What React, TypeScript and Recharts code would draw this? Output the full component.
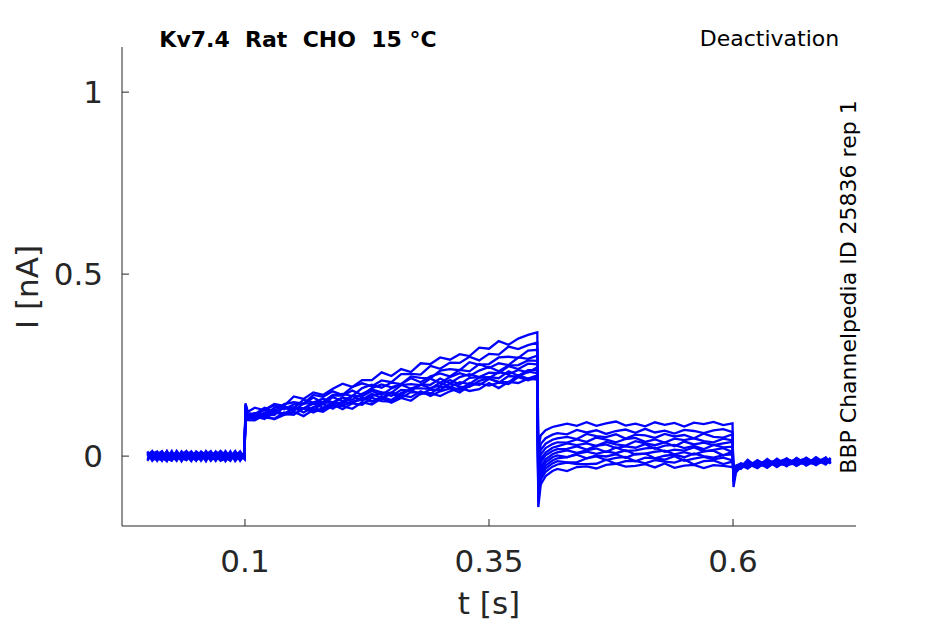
import React from "react";
import { LineChart, Line, XAxis, YAxis } from "recharts";

const timeS = [
  0.0, 0.005, 0.01, 0.015, 0.02, 0.025, 0.03, 0.035, 0.04, 0.045, 0.05, 0.055, 0.06, 0.065, 0.07, 0.075, 0.08, 0.085, 0.09, 0.095, 0.0995,
  0.1005, 0.103, 0.11, 0.12, 0.13, 0.14, 0.15, 0.16, 0.17, 0.18, 0.19, 0.2, 0.21, 0.22, 0.23, 0.24, 0.25, 0.26, 0.27, 0.28, 0.29, 0.3, 0.31, 0.32, 0.33, 0.34, 0.35, 0.36, 0.37, 0.38, 0.39, 0.3995,
  0.4005, 0.403, 0.408, 0.415, 0.42, 0.43, 0.44, 0.45, 0.46, 0.47, 0.48, 0.49, 0.5, 0.51, 0.52, 0.53, 0.54, 0.55, 0.56, 0.57, 0.58, 0.59, 0.5995,
  0.6005, 0.603, 0.608, 0.615, 0.625, 0.635, 0.645, 0.655, 0.665, 0.675, 0.685, 0.695, 0.7,
];

const trace01 = [
  0.007, -0.011, 0.004, 0.014, -0.006, -0.013, 0.008, 0.001, -0.01, 0.013, -0.003, 0.006, -0.014, 0.01, -0.007, 0.003, 0.011, -0.008, 0.004, -0.004, 0.001,
  0.145, 0.122, 0.133, 0.126, 0.143, 0.138, 0.164, 0.157, 0.175, 0.168, 0.185, 0.199, 0.19, 0.209, 0.209, 0.23, 0.22, 0.239, 0.231, 0.255, 0.253, 0.271, 0.265, 0.28, 0.275, 0.298, 0.295, 0.316, 0.306, 0.323, 0.333, 0.34,
  0.02, 0.057, 0.071, 0.08, 0.083, 0.089, 0.083, 0.093, 0.083, 0.09, 0.095, 0.084, 0.089, 0.082, 0.093, 0.086, 0.091, 0.081, 0.092, 0.088, 0.094, 0.085, 0.09,
  -0.085, -0.045, -0.03, -0.01, -0.031, -0.008, -0.027, -0.006, -0.024, -0.004, -0.022, -0.005, -0.018,
];
const trace02 = [
  -0.01, 0.006, 0.013, -0.004, -0.014, 0.007, 0.003, -0.008, 0.011, -0.001, 0.008, -0.013, 0.004, 0.014, -0.006, -0.01, 0.007, 0.001, -0.011, 0.008, -0.003,
  0.138, 0.118, 0.115, 0.133, 0.123, 0.143, 0.148, 0.144, 0.168, 0.163, 0.178, 0.168, 0.19, 0.2, 0.192, 0.208, 0.203, 0.225, 0.226, 0.224, 0.248, 0.24, 0.257, 0.256, 0.273, 0.263, 0.281, 0.279, 0.301, 0.294, 0.305, 0.312,
  -0.01, 0.033, 0.049, 0.059, 0.063, 0.06, 0.072, 0.065, 0.071, 0.061, 0.069, 0.073, 0.064, 0.075, 0.065, 0.07, 0.062, 0.072, 0.069, 0.063, 0.071, 0.074, 0.066,
  -0.072, -0.04, -0.028, -0.032, -0.011, -0.029, -0.007, -0.025, -0.009, -0.023, -0.003, -0.02, -0.009,
];
const trace03 = [
  0.003, 0.014, -0.007, -0.011, 0.008, 0.001, -0.013, 0.01, 0.004, -0.008, -0.004, 0.013, -0.001, -0.01, 0.011, 0.006, -0.014, 0.003, 0.008, -0.006, 0.004,
  0.13, 0.112, 0.117, 0.111, 0.133, 0.134, 0.132, 0.155, 0.147, 0.149, 0.168, 0.171, 0.165, 0.187, 0.196, 0.188, 0.202, 0.198, 0.219, 0.215, 0.214, 0.235, 0.239, 0.236, 0.258, 0.251, 0.253, 0.271, 0.273, 0.27, 0.29, 0.292,
  -0.03, 0.017, 0.034, 0.045, 0.049, 0.053, 0.047, 0.061, 0.055, 0.052, 0.06, 0.048, 0.059, 0.057, 0.05, 0.061, 0.054, 0.058, 0.049, 0.062, 0.053, 0.051, 0.06,
  -0.066, -0.036, -0.033, -0.015, -0.027, -0.012, -0.03, -0.008, -0.022, -0.006, -0.024, -0.004, -0.021,
];
const trace04 = [
  -0.006, -0.001, 0.01, 0.004, -0.013, 0.011, -0.007, 0.003, 0.014, -0.004, -0.011, 0.001, 0.008, -0.008, 0.004, 0.013, -0.003, -0.013, 0.006, 0.01, -0.007,
  0.142, 0.116, 0.111, 0.128, 0.139, 0.129, 0.142, 0.143, 0.161, 0.147, 0.167, 0.166, 0.18, 0.168, 0.187, 0.197, 0.189, 0.198, 0.214, 0.203, 0.219, 0.227, 0.219, 0.237, 0.233, 0.253, 0.242, 0.255, 0.25, 0.271, 0.267, 0.276,
  -0.045, 0.004, 0.022, 0.033, 0.038, 0.037, 0.046, 0.039, 0.051, 0.045, 0.038, 0.047, 0.05, 0.039, 0.046, 0.037, 0.048, 0.044, 0.049, 0.041, 0.038, 0.048, 0.043,
  -0.062, -0.034, -0.022, -0.034, -0.014, -0.025, -0.009, -0.028, -0.005, -0.021, -0.01, -0.023, -0.007,
];
const trace05 = [
  0.013, -0.008, -0.003, 0.007, 0.003, -0.01, 0.014, -0.006, -0.011, 0.004, 0.01, -0.007, 0.001, 0.006, -0.013, 0.008, -0.004, 0.011, -0.008, 0.001, 0.003,
  0.125, 0.11, 0.118, 0.114, 0.113, 0.135, 0.133, 0.131, 0.147, 0.158, 0.147, 0.161, 0.155, 0.171, 0.183, 0.175, 0.174, 0.195, 0.198, 0.195, 0.213, 0.201, 0.217, 0.228, 0.22, 0.235, 0.245, 0.233, 0.249, 0.25, 0.263, 0.262,
  -0.06, -0.008, 0.01, 0.023, 0.027, 0.035, 0.03, 0.035, 0.028, 0.039, 0.032, 0.029, 0.041, 0.035, 0.03, 0.038, 0.027, 0.04, 0.032, 0.037, 0.03, 0.035, 0.039,
  -0.058, -0.033, -0.031, -0.013, -0.03, -0.016, -0.024, -0.011, -0.027, -0.008, -0.02, -0.006, -0.019,
];
const trace06 = [
  -0.001, 0.008, -0.013, 0.011, -0.004, 0.006, -0.008, 0.013, 0.001, -0.014, 0.007, 0.004, -0.01, 0.003, 0.01, -0.011, 0.006, -0.003, 0.014, -0.007, -0.001,
  0.135, 0.113, 0.113, 0.128, 0.118, 0.133, 0.124, 0.145, 0.145, 0.143, 0.162, 0.15, 0.166, 0.164, 0.179, 0.168, 0.186, 0.196, 0.185, 0.197, 0.196, 0.213, 0.2, 0.217, 0.225, 0.217, 0.229, 0.228, 0.247, 0.239, 0.254, 0.252,
  -0.07, -0.017, 0.002, 0.014, 0.019, 0.02, 0.027, 0.018, 0.028, 0.032, 0.022, 0.027, 0.023, 0.033, 0.02, 0.029, 0.031, 0.022, 0.028, 0.019, 0.031, 0.024, 0.026,
  -0.055, -0.031, -0.024, -0.029, -0.017, -0.032, -0.012, -0.022, -0.007, -0.026, -0.011, -0.018, -0.005,
];
const trace07 = [
  0.008, -0.004, 0.001, -0.01, 0.013, -0.007, 0.004, -0.013, 0.007, 0.011, -0.006, -0.01, 0.014, -0.003, -0.008, 0.003, 0.01, -0.006, -0.001, 0.013, -0.004,
  0.12, 0.106, 0.117, 0.109, 0.12, 0.114, 0.134, 0.13, 0.127, 0.146, 0.148, 0.144, 0.165, 0.152, 0.165, 0.175, 0.165, 0.182, 0.18, 0.196, 0.187, 0.194, 0.209, 0.197, 0.215, 0.217, 0.214, 0.231, 0.225, 0.237, 0.23, 0.244,
  -0.085, -0.029, -0.009, 0.005, 0.01, 0.016, 0.009, 0.016, 0.021, 0.011, 0.024, 0.014, 0.016, 0.021, 0.023, 0.012, 0.018, 0.015, 0.024, 0.013, 0.017, 0.022, 0.011,
  -0.052, -0.03, -0.035, -0.018, -0.026, -0.01, -0.029, -0.014, -0.019, -0.009, -0.025, -0.008, -0.016,
];
const trace08 = [
  -0.013, 0.011, 0.006, -0.001, -0.007, 0.014, -0.011, 0.004, -0.004, 0.008, 0.001, -0.008, 0.007, -0.013, 0.003, 0.01, -0.006, 0.008, -0.01, 0.004, 0.006,
  0.128, 0.11, 0.105, 0.12, 0.129, 0.114, 0.131, 0.131, 0.144, 0.133, 0.147, 0.16, 0.149, 0.155, 0.171, 0.16, 0.175, 0.167, 0.186, 0.186, 0.185, 0.202, 0.19, 0.203, 0.198, 0.216, 0.217, 0.214, 0.233, 0.221, 0.236, 0.236,
  -0.095, -0.038, -0.017, -0.003, 0.002, -0.003, 0.007, 0.012, 0.006, 0.013, 0.008, 0.016, 0.004, 0.007, 0.012, 0.015, 0.005, 0.011, 0.004, 0.013, 0.015, 0.002, 0.012,
  -0.05, -0.029, -0.02, -0.027, -0.012, -0.024, -0.018, -0.007, -0.026, -0.013, -0.017, -0.004, -0.02,
];
const trace09 = [
  0.004, -0.007, -0.01, 0.008, 0.006, -0.003, 0.011, -0.014, 0.01, -0.006, 0.013, 0.003, -0.011, 0.007, -0.001, -0.008, 0.014, -0.004, 0.003, -0.011, 0.0,
  0.118, 0.103, 0.109, 0.102, 0.123, 0.115, 0.114, 0.132, 0.132, 0.126, 0.146, 0.139, 0.148, 0.161, 0.15, 0.163, 0.154, 0.174, 0.181, 0.17, 0.183, 0.181, 0.2, 0.191, 0.19, 0.207, 0.214, 0.202, 0.22, 0.218, 0.232, 0.228,
  -0.105, -0.047, -0.026, -0.012, -0.006, -0.003, 0.004, -0.006, 0.002, -0.001, 0.005, -0.005, 0.006, 0.007, -0.006, 0.001, 0.004, -0.003, 0.007, 0.0, -0.004, 0.003, 0.005,
  -0.048, -0.028, -0.027, -0.021, -0.033, -0.013, -0.02, -0.026, -0.011, -0.018, -0.022, -0.01, -0.012,
];
const trace10 = [
  -0.008, 0.001, 0.007, -0.013, 0.01, 0.004, -0.006, 0.008, -0.003, 0.001, -0.013, 0.011, 0.006, -0.007, 0.013, -0.004, -0.01, 0.007, -0.003, 0.006, -0.006,
  0.126, 0.107, 0.1, 0.115, 0.123, 0.116, 0.133, 0.12, 0.135, 0.143, 0.13, 0.148, 0.146, 0.16, 0.15, 0.156, 0.173, 0.16, 0.176, 0.174, 0.171, 0.19, 0.19, 0.182, 0.201, 0.195, 0.212, 0.204, 0.203, 0.222, 0.213, 0.222,
  -0.115, -0.056, -0.034, -0.02, -0.014, -0.017, -0.017, -0.006, -0.001, -0.011, -0.005, -0.002, -0.014, -0.004, -0.006, -0.01, 0.0, -0.013, -0.007, -0.002, -0.009, -0.004, -0.012,
  -0.046, -0.027, -0.025, -0.031, -0.02, -0.015, -0.027, -0.01, -0.016, -0.023, -0.007, -0.021, -0.014,
];
const trace11 = [
  0.011, -0.013, 0.003, 0.006, -0.008, -0.004, 0.013, -0.001, 0.006, -0.011, 0.004, 0.008, -0.006, -0.001, -0.011, 0.014, 0.001, -0.008, 0.01, -0.013, 0.007,
  0.115, 0.101, 0.11, 0.106, 0.103, 0.12, 0.114, 0.131, 0.12, 0.132, 0.142, 0.129, 0.145, 0.141, 0.16, 0.151, 0.15, 0.167, 0.162, 0.178, 0.165, 0.178, 0.186, 0.175, 0.193, 0.2, 0.194, 0.202, 0.198, 0.217, 0.208, 0.216,
  -0.125, -0.065, -0.043, -0.029, -0.023, -0.018, -0.022, -0.022, -0.021, -0.01, -0.021, -0.014, -0.013, -0.02, -0.011, -0.015, -0.018, -0.009, -0.023, -0.014, -0.012, -0.022, -0.015,
  -0.044, -0.029, -0.032, -0.016, -0.023, -0.028, -0.014, -0.021, -0.015, -0.006, -0.019, -0.015, -0.008,
];
const trace12 = [
  0.0, 0.004, -0.006, -0.007, 0.014, -0.011, 0.001, 0.007, -0.008, 0.01, -0.01, -0.003, 0.011, 0.004, 0.007, -0.013, -0.007, 0.013, -0.014, 0.003, -0.008,
  0.112, 0.099, 0.098, 0.113, 0.101, 0.113, 0.122, 0.11, 0.127, 0.122, 0.139, 0.137, 0.13, 0.148, 0.142, 0.159, 0.147, 0.16, 0.152, 0.172, 0.173, 0.165, 0.178, 0.188, 0.179, 0.184, 0.201, 0.187, 0.204, 0.201, 0.213, 0.21,
  -0.14, -0.078, -0.055, -0.041, -0.035, -0.041, -0.03, -0.028, -0.034, -0.024, -0.021, -0.029, -0.027, -0.022, -0.031, -0.02, -0.032, -0.026, -0.024, -0.033, -0.025, -0.027, -0.03,
  -0.042, -0.026, -0.021, -0.025, -0.028, -0.019, -0.011, -0.024, -0.02, -0.014, -0.016, -0.012, -0.017,
];

const traces = [trace01, trace02, trace03, trace04, trace05, trace06, trace07, trace08, trace09, trace10, trace11, trace12];

const xTicks = [0.1, 0.35, 0.6];
const yTicks = [0, 0.5, 1];
const xLabels = ["0.1", "0.35", "0.6"];
const yLabels = ["0", "0.5", "1"];

const titleText = "Kv7.4  Rat  CHO  15 °C";
const protocolText = "Deactivation";
const sourceText = "BBP Channelpedia ID 25836 rep 1";

const rows = timeS.map((t, i) => {
  const r: Record<string, number> = { t };
  traces.forEach((tr, k) => {
    r["s" + k] = tr[i];
  });
  return r;
});

const AX = "#262626";
const FONT = "DejaVu Sans, sans-serif";

const XTick = (props: any) => {
  const { x, y, payload } = props;
  const idx = xTicks.indexOf(payload.value);
  return (
    <g>
      <line x1={x} x2={x} y1={y} y2={y - 7} stroke={AX} strokeWidth={1} />
      <text x={x} y={y + 46} textAnchor="middle" fill={AX} fontSize={31} fontFamily={FONT}>
        {idx >= 0 ? xLabels[idx] : String(payload.value)}
      </text>
    </g>
  );
};

const YTick = (props: any) => {
  const { x, y, payload } = props;
  const idx = yTicks.indexOf(payload.value);
  return (
    <g>
      <line x1={x} x2={x + 7} y1={y} y2={y} stroke={AX} strokeWidth={1} />
      <text x={x - 19} y={y + 11} textAnchor="end" fill={AX} fontSize={31} fontFamily={FONT}>
        {idx >= 0 ? yLabels[idx] : String(payload.value)}
      </text>
    </g>
  );
};

export default function App() {
  return (
    <div style={{ position: "absolute", left: 0, top: 0, width: 945, height: 624, background: "#fff" }}>
      <LineChart
        width={945}
        height={624}
        data={rows}
        margin={{ top: 47, right: 89, left: 0, bottom: 0 }}
      >
        <XAxis
          type="number"
          dataKey="t"
          domain={[-0.026, 0.726]}
          ticks={xTicks}
          allowDataOverflow
          height={98}
          tickSize={0}
          tickMargin={0}
          tickLine={false}
          axisLine={{ stroke: AX, strokeWidth: 1 }}
          tick={<XTick />}
          interval={0}
        />
        <YAxis
          type="number"
          domain={[-0.192, 1.124]}
          ticks={yTicks}
          allowDataOverflow
          width={122}
          tickSize={0}
          tickMargin={0}
          tickLine={false}
          axisLine={{ stroke: AX, strokeWidth: 1 }}
          tick={<YTick />}
          interval={0}
        />
        {traces.map((_, k) => (
          <Line
            key={k}
            type="linear"
            dataKey={"s" + k}
            stroke="#0000ff"
            strokeWidth={2.3}
            dot={false}
            activeDot={false}
            isAnimationActive={false}
          />
        ))}
      </LineChart>
      <svg
        width={945}
        height={624}
        style={{ position: "absolute", left: 0, top: 0, pointerEvents: "none" }}
      >
        <text x={298} y={47} textAnchor="middle" fontSize={22} fontWeight="bold" fontFamily={FONT} fill="#000" style={{ whiteSpace: "pre" }}>
          {titleText}
        </text>
        <text x={769.5} y={46} textAnchor="middle" fontSize={22} fontFamily={FONT} fill="#000">
          {protocolText}
        </text>
        <text transform="translate(856,287) rotate(-90)" textAnchor="middle" fontSize={22} fontFamily={FONT} fill="#000">
          {sourceText}
        </text>
        <text x={489} y={614} textAnchor="middle" fontSize={31} fontFamily={FONT} fill={AX}>
          t [s]
        </text>
        <text transform="translate(38,287) rotate(-90)" textAnchor="middle" fontSize={31} fontFamily={FONT} fill={AX}>
          I [nA]
        </text>
      </svg>
    </div>
  );
}
